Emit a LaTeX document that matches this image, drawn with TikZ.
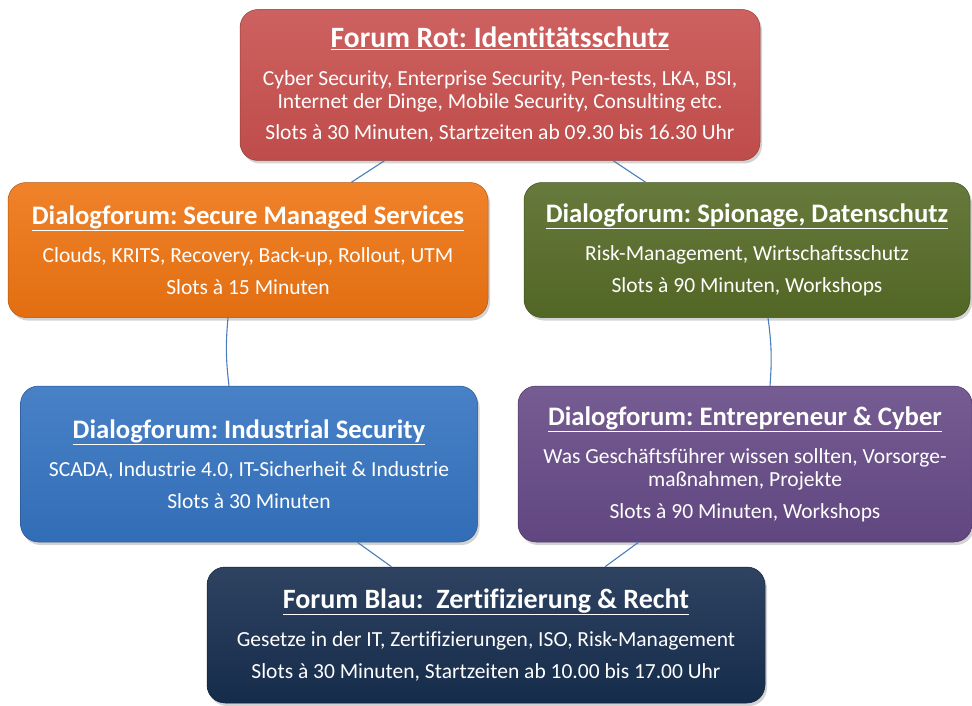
\documentclass[tikz,border=0pt]{standalone}
\usepackage{fontspec}
\setmainfont{Carlito}[Ligatures=NoCommon]
\usetikzlibrary{shadows}

\definecolor{rotF}{HTML}{C8504E}
\definecolor{orangeF}{HTML}{EE7412}
\definecolor{gruenF}{HTML}{566B27}
\definecolor{blauF}{HTML}{3473C0}
\definecolor{lilaF}{HTML}{664A86}
\definecolor{navyF}{HTML}{172E4F}
\definecolor{linkF}{HTML}{4A7EBB}

\newcommand{\ftitle}[2][26.7]{{\fontsize{#1}{23}\selectfont\bfseries\underline{#2}}}

\begin{document}
\frenchspacing
\begin{tikzpicture}[x=1pt, y=-1pt,
    forum/.style={draw=#1!75!black, line width=0.5pt, rounded corners=18pt, inner sep=0pt,
        align=center, text=white, top color=#1!90!white, bottom color=#1!95!black,
        drop shadow={opacity=0.35, shadow xshift=2pt, shadow yshift=-3pt},
        font=\fontsize{21.5}{23}\selectfont},
    link/.style={draw=linkF, line width=1.1pt}
]
    \useasboundingbox (0,0) rectangle (972,706);

    % Forum Rot at the top
    \node[forum=rotF, minimum width=520pt, minimum height=151pt] (rot) at (500,85)
        {\ftitle[29.5]{Forum Rot: Identitätsschutz}\\[15pt]
         Cyber Security, Enterprise Security, Pen-tests, LKA, BSI,\\
         Internet der Dinge, Mobile Security, Consulting etc.\\[8pt]
         Slots à 30 Minuten, Startzeiten ab 09.30 bis 16.30 Uhr};

    % Dialogforen, first row
    \node[forum=orangeF, minimum width=480pt, minimum height=135pt] (sms) at (248,250)
        {\ftitle{Dialogforum: Secure Managed Services}\\[15pt]
         Clouds, KRITS, Recovery, Back-up, Rollout, UTM\\[9pt]
         Slots à 15 Minuten};
    \node[forum=gruenF, minimum width=446pt, minimum height=135pt] (spio) at (747,250)
        {\ftitle{Dialogforum: Spionage, Datenschutz}\\[15pt]
         Risk-Management, Wirtschaftsschutz\\[9pt]
         Slots à 90 Minuten, Workshops};

    % Dialogforen, second row
    \node[forum=blauF, minimum width=457pt, minimum height=156pt] (ind) at (249,464)
        {\ftitle{Dialogforum: Industrial Security}\\[15pt]
         SCADA, Industrie 4.0, IT-Sicherheit \& Industrie\\[9pt]
         Slots à 30 Minuten};
    \node[forum=lilaF, minimum width=454pt, minimum height=156pt] (entre) at (745,464)
        {\ftitle{Dialogforum: Entrepreneur \& Cyber}\\[15pt]
         Was Geschäftsführer wissen sollten, Vorsorge-\\
         maßnahmen, Projekte\\[9pt]
         Slots à 90 Minuten, Workshops};

    % Forum Blau at the bottom
    \node[forum=navyF, minimum width=558pt, minimum height=136pt] (blau) at (486,635)
        {\ftitle[28]{Forum Blau:\ \ Zertifizierung \& Recht}\\[15pt]
         Gesetze in der IT, Zertifizierungen, ISO, Risk-Management\\[9pt]
         Slots à 30 Minuten, Startzeiten ab 10.00 bis 17.00 Uhr};

    % Verbindungen
    \draw[link] (rot) -- (sms);
    \draw[link] (rot) -- (spio);
    \draw[link] ([xshift=-20pt]sms.south) to[bend right=6] ([xshift=-20pt]ind.north);
    \draw[link] ([xshift=21pt]spio.south) to[bend left=6] ([xshift=25pt]entre.north);
    \draw[link] (ind) -- (blau);
    \draw[link] (entre) -- ([xshift=119pt]blau.north);
\end{tikzpicture}
\end{document}
